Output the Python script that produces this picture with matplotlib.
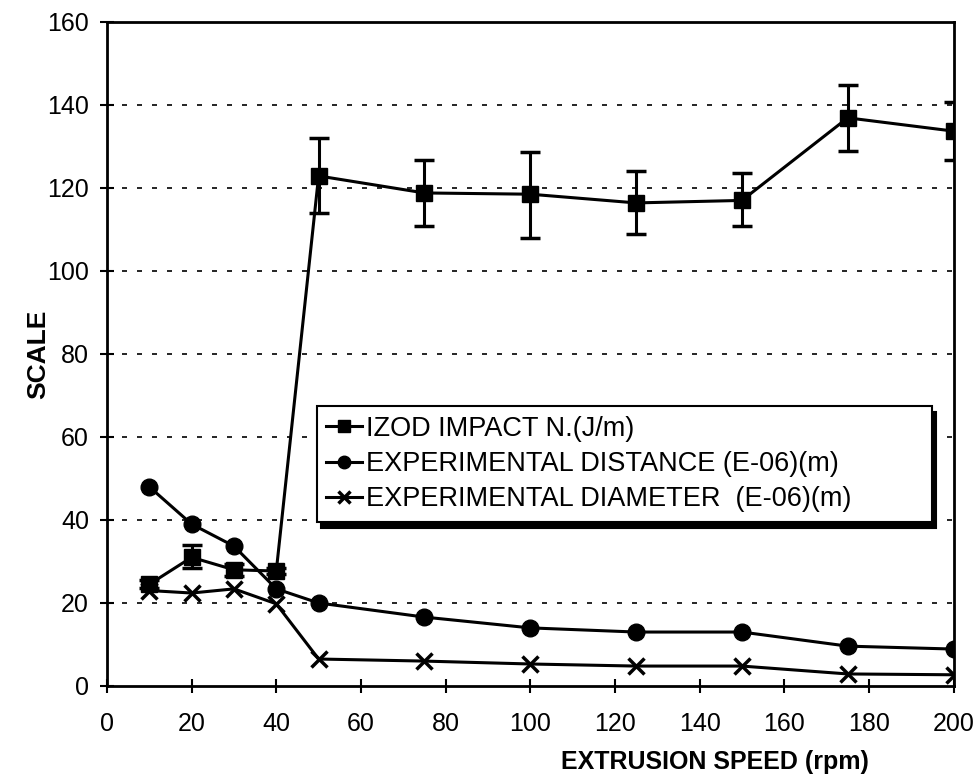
import matplotlib
matplotlib.use("Agg")
import matplotlib.pyplot as plt
import numpy as np

plt.rcParams["font.family"] = ["Liberation Sans", "DejaVu Sans"]

speed = [10, 20, 30, 40, 50, 75, 100, 125, 150, 175, 200]
izod = [24.5, 31, 28, 27.7, 122.9, 118.8, 118.5, 116.4, 117, 136.9, 133.7]
izod_hi = [25.5, 34, 29.5, 28.5, 132, 126.7, 128.7, 124, 123.6, 144.8, 140.7]
izod_lo = [23.5, 28.5, 26.5, 27, 114, 110.8, 108, 109, 110.8, 129, 126.7]
distance = [48, 39, 33.7, 23.4, 20, 16.6, 14, 13, 13, 9.6, 8.9]
diameter = [23, 22.4, 23.4, 19.8, 6.5, 6.0, 5.3, 4.8, 4.8, 2.9, 2.7]

labels = ["IZOD IMPACT N.(J/m)",
          "EXPERIMENTAL DISTANCE (E-06)(m)",
          "EXPERIMENTAL DIAMETER  (E-06)(m)"]

fig = plt.figure(figsize=(9.76, 7.79), dpi=100)
ax = fig.add_axes([0.1096, 0.1194, 0.8674, 0.8524])

izod = np.asarray(izod)
yerr = [izod - np.asarray(izod_lo), np.asarray(izod_hi) - izod]
eb = ax.errorbar(speed, izod, yerr=yerr, color="black", lw=2.2, marker="s",
                 markersize=12, capsize=7, capthick=2.5, elinewidth=2.2,
                 zorder=4)
h_dist, = ax.plot(speed, distance, color="black", lw=2.2, marker="o",
                  markersize=12, zorder=3)
h_diam, = ax.plot(speed, diameter, color="black", lw=2.2, marker="x",
                  markersize=12, markeredgewidth=2.5, zorder=3)

ax.set_xlim(0, 200)
ax.set_ylim(0, 160)
ax.set_xticks(np.arange(0, 201, 20))
ax.set_yticks(np.arange(0, 161, 20))
ax.tick_params(direction="inout", length=10, width=1.5, labelsize=18)
ax.tick_params(axis="x", pad=14)
ax.tick_params(axis="y", pad=8)
for y in range(20, 160, 20):
    ax.axhline(y, color="black", lw=1.2, ls=(0, (3, 6)), zorder=1)
for s in ax.spines.values():
    s.set_linewidth(2)

ax.set_xlabel("EXTRUSION SPEED (rpm)", fontsize=18, fontweight="bold",
              labelpad=10, x=0.718)
ax.set_ylabel("SCALE", fontsize=19, fontweight="bold", labelpad=-2)

leg = ax.legend([eb.lines[0], h_dist, h_diam], labels, loc="lower left",
                bbox_to_anchor=(0.248, 0.247, 0.726, 0.209), mode="expand",
                fontsize=19.5, frameon=True, fancybox=False,
                shadow={"color": "black", "alpha": 1.0, "ox": 3, "oy": -4},
                borderpad=0.35, labelspacing=0.35, handlelength=1.3,
                handletextpad=0.15, markerscale=0.75, borderaxespad=0)
leg.get_frame().set_edgecolor("black")
leg.get_frame().set_linewidth(1.5)
leg.set_zorder(6)

fig.savefig("out.png", dpi=100)
